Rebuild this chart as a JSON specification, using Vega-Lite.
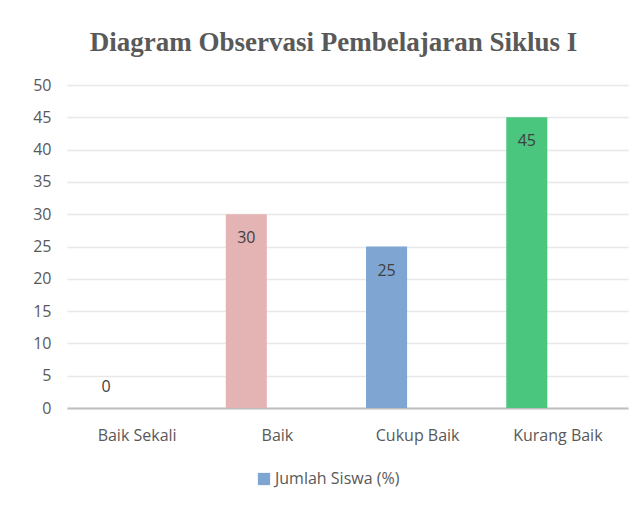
{
  "$schema": "https://vega.github.io/schema/vega-lite/v6.json",
  "autosize": "none",
  "width": 561,
  "height": 323,
  "padding": {"left": 67, "top": 85, "right": 15, "bottom": 98},
  "background": "white",
  "title": {
    "text": "Diagram Observasi Pembelajaran Siklus  I",
    "font": "Liberation Serif",
    "fontSize": 27,
    "fontWeight": "bold",
    "color": "#595959",
    "anchor": "middle",
    "dx": -14,
    "offset": 20
  },
  "config": {
    "view": {"stroke": null},
    "font": "Open Sans"
  },
  "data": {
    "values": [
      {"kategori": "Baik Sekali", "nilai": 0, "seri": "Jumlah Siswa (%)"},
      {"kategori": "Baik", "nilai": 30, "seri": "Jumlah Siswa (%)"},
      {"kategori": "Cukup Baik", "nilai": 25, "seri": "Jumlah Siswa (%)"},
      {"kategori": "Kurang Baik", "nilai": 45, "seri": "Jumlah Siswa (%)"}
    ]
  },
  "encoding": {
    "x": {
      "field": "kategori",
      "type": "nominal",
      "sort": ["Baik Sekali", "Baik", "Cukup Baik", "Kurang Baik"],
      "scale": {"paddingInner": 0, "paddingOuter": 0},
      "axis": {
        "title": null,
        "labelAngle": 0,
        "labelFontSize": 16,
        "labelColor": "#595959",
        "labelPadding": 19,
        "ticks": false,
        "domainColor": "#BFBFBF",
        "domainWidth": 2,
        "grid": false
      }
    },
    "xOffset": {
      "field": "seri",
      "type": "nominal",
      "scale": {"domain": ["Jumlah Siswa (%)", "kosong"], "paddingInner": 0.339, "paddingOuter": 0.298}
    },
    "y": {
      "field": "nilai",
      "type": "quantitative",
      "scale": {"domain": [0, 50]},
      "axis": {
        "title": null,
        "values": [0, 5, 10, 15, 20, 25, 30, 35, 40, 45, 50],
        "labelFontSize": 16,
        "labelColor": "#595959",
        "labelPadding": 16,
        "ticks": false,
        "domain": false,
        "gridColor": "#E8E8E8",
        "gridWidth": 1.5
      }
    }
  },
  "layer": [
    {
      "mark": {"type": "bar"},
      "encoding": {
        "color": {
          "condition": [
            {"test": "datum.kategori === 'Baik'", "value": "#E4B3B4"},
            {"test": "datum.kategori === 'Kurang Baik'", "value": "#4BC67F"}
          ],
          "field": "seri",
          "type": "nominal",
          "scale": {"range": ["#7FA6D3"]},
          "legend": {
            "title": null,
            "orient": "none",
            "legendX": 189,
            "legendY": 386,
            "direction": "horizontal",
            "symbolType": "square",
            "symbolSize": 150,
            "symbolStrokeWidth": 0,
            "labelFontSize": 16,
            "labelColor": "#595959",
            "labelOffset": 3
          }
        }
      }
    },
    {
      "transform": [{"filter": "datum.nilai > 0"}],
      "mark": {"type": "text", "dy": 24, "fontSize": 16, "color": "#404040"},
      "encoding": {"text": {"field": "nilai", "type": "quantitative"}}
    },
    {
      "transform": [{"filter": "datum.nilai === 0"}],
      "mark": {"type": "text", "dy": -21, "fontSize": 16, "color": "#404040"},
      "encoding": {"text": {"field": "nilai", "type": "quantitative"}}
    }
  ]
}
